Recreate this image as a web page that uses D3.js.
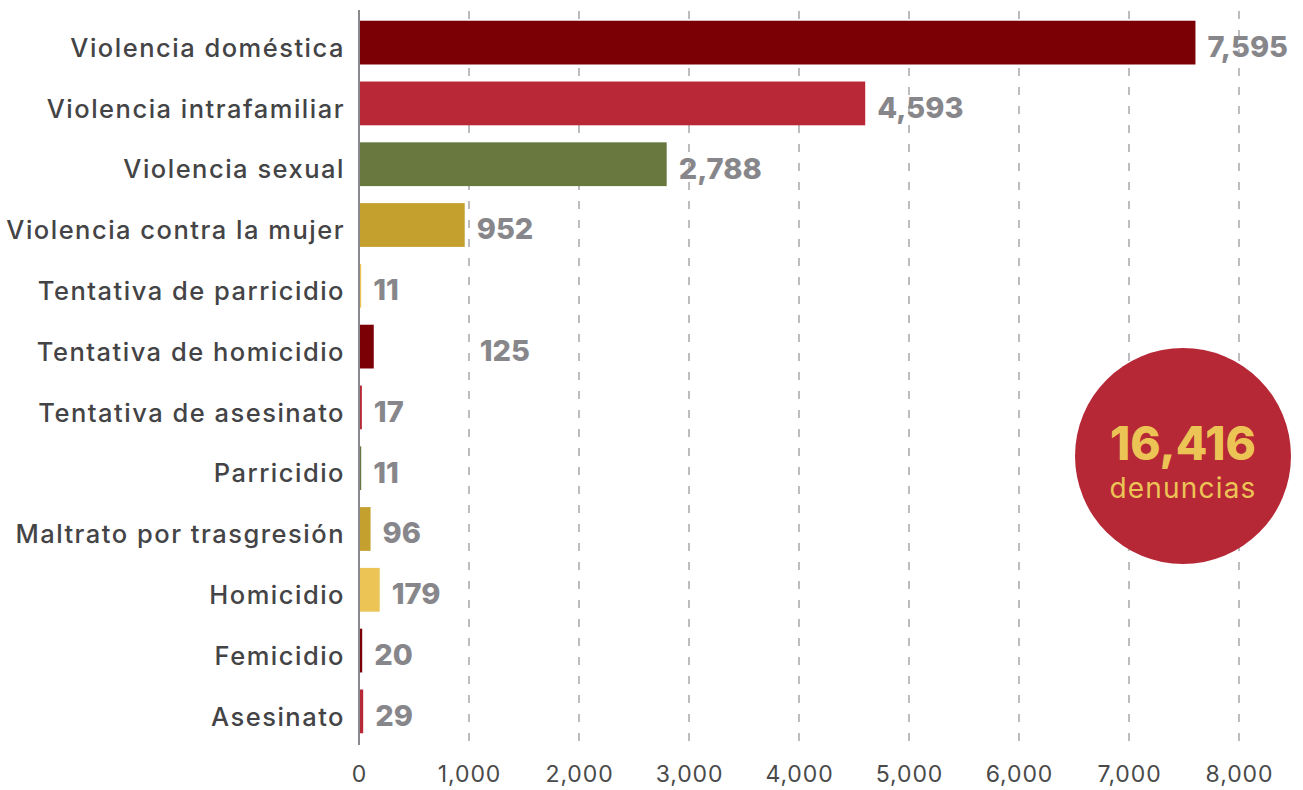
<!DOCTYPE html>
<html>
<head>
<meta charset="utf-8">
<script src="https://cdn.jsdelivr.net/npm/d3@7"></script>
<style>
  body { margin: 0; background: #fff; }
  svg { display: block; font-family: "Inter", "Noto Sans", sans-serif; }
</style>
</head>
<body>
<script>
// categories and their counts (denuncias)
var categories = [
  "Violencia doméstica", "Violencia intrafamiliar", "Violencia sexual",
  "Violencia contra la mujer", "Tentativa de parricidio", "Tentativa de homicidio",
  "Tentativa de asesinato", "Parricidio", "Maltrato por trasgresión",
  "Homicidio", "Femicidio", "Asesinato"
];
var values = [7595, 4593, 2788, 952, 11, 125, 17, 11, 96, 179, 20, 29];
var xTicks = [0, 1000, 2000, 3000, 4000, 5000, 6000, 7000, 8000];
var totalLabel = "16,416";
var totalCaption = "denuncias";

var palette = ["#7a0006", "#b82836", "#68783f", "#c4a02f", "#ecc456"];

var width = 1303, height = 790;
var margin = {top: 11, right: 64, bottom: 47, left: 359};

var svg = d3.select("body").append("svg")
  .attr("width", width)
  .attr("height", height);

var x = d3.scaleLinear()
  .domain([0, 8000])
  .range([margin.left, width - margin.right]);

var y = d3.scaleBand()
  .domain(categories)
  .range([margin.top, height - margin.bottom])
  .paddingInner(0.28)
  .paddingOuter(0.16);

var fmt = d3.format(",");

// dashed gridlines
svg.append("g")
  .selectAll("line")
  .data(xTicks.slice(1))
  .enter()
  .append("line")
  .attr("x1", function (d) { return x(d); })
  .attr("x2", function (d) { return x(d); })
  .attr("y1", margin.top)
  .attr("y2", height - margin.bottom)
  .attr("stroke", "#bdbdc0")
  .attr("stroke-width", 2)
  .attr("stroke-dasharray", "8,11");

// x axis labels
var xAxis = d3.axisBottom(x)
  .tickValues(xTicks)
  .tickFormat(fmt)
  .tickSize(0)
  .tickPadding(23);

var gx = svg.append("g")
  .attr("transform", "translate(0," + (height - margin.bottom) + ")")
  .call(xAxis);
gx.select(".domain").remove();
gx.selectAll("text")
  .attr("font-size", 23)
  .attr("letter-spacing", 0.9)
  .attr("fill", "#4a4a4a")
  .attr("font-family", "Inter, 'Noto Sans', sans-serif");

// bars
svg.append("g")
  .selectAll("rect")
  .data(values)
  .enter()
  .append("rect")
  .attr("x", x(0) + 1)
  .attr("y", function (d, i) { return y(categories[i]); })
  .attr("width", function (d) { return Math.max(1, x(d) - x(0)); })
  .attr("height", y.bandwidth())
  .attr("fill", function (d, i) { return palette[i % palette.length]; });

// y axis line
svg.append("line")
  .attr("x1", x(0)).attr("x2", x(0))
  .attr("y1", margin.top - 1).attr("y2", height - margin.bottom + 2)
  .attr("stroke", "#8a8a8e")
  .attr("stroke-width", 2);

// category labels
svg.append("g")
  .selectAll("text")
  .data(categories)
  .enter()
  .append("text")
  .attr("x", x(0) - 14)
  .attr("y", function (d) { return y(d) + y.bandwidth() / 2 + 5; })
  .attr("dy", "0.36em")
  .attr("text-anchor", "end")
  .attr("font-size", 25.5)
  .attr("font-weight", 500)
  .attr("letter-spacing", 1.5)
  .attr("fill", "#444446")
  .text(function (d) { return d; });

// value labels (the 125 label sits further right in the original)
var labelShift = {"Tentativa de homicidio": 94};
svg.append("g")
  .selectAll("text")
  .data(values)
  .enter()
  .append("text")
  .attr("x", function (d, i) { return x(d) + 13 + (labelShift[categories[i]] || 0); })
  .attr("y", function (d, i) { return y(categories[i]) + y.bandwidth() / 2 + 4; })
  .attr("dy", "0.36em")
  .attr("font-size", 29)
  .attr("font-weight", 800)
  .attr("fill", "#87878b")
  .text(function (d) { return fmt(d); });

// total bubble
var bubble = svg.append("g")
  .attr("transform", "translate(1183,456)");
bubble.append("circle")
  .attr("r", 108)
  .attr("fill", "#b72837");
bubble.append("text")
  .attr("y", 4)
  .attr("text-anchor", "middle")
  .attr("font-size", 46)
  .attr("font-weight", 800)
  .attr("fill", "#ecc455")
  .text(totalLabel);
bubble.append("text")
  .attr("y", 42)
  .attr("text-anchor", "middle")
  .attr("font-size", 28)
  .attr("font-weight", 400)
  .attr("letter-spacing", 1.2)
  .attr("fill", "#ecc455")
  .text(totalCaption);
</script>
</body>
</html>
